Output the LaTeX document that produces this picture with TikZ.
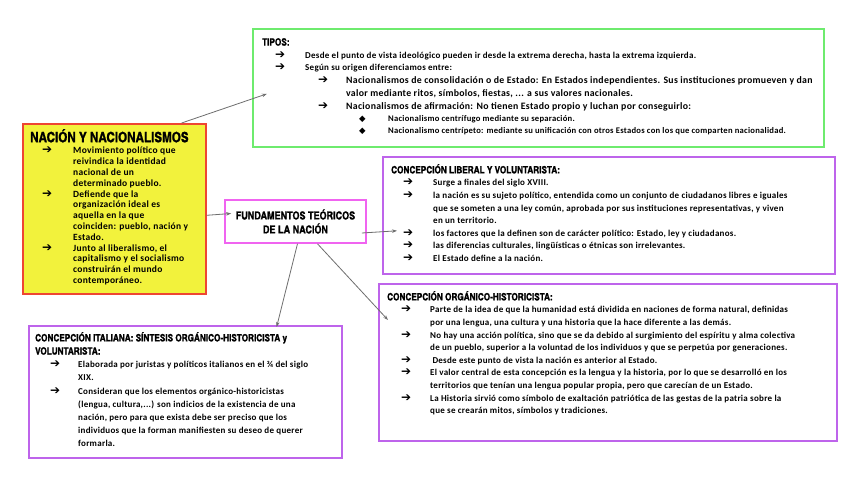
\documentclass[tikz,border=0pt]{standalone}
\usepackage{fontspec}
\setmainfont{Carlito}
\newfontfamily\bodyfont{Carlito}[LetterSpace=3]
\newfontfamily\titlefont{texgyreheroscn-bold.otf}[FakeBold=1.2]
\newfontfamily\symfont{DejaVu Sans}
\usetikzlibrary{arrows.meta, positioning, calc}
\definecolor{tiposgreen}{RGB}{110,235,110}
\definecolor{nacionyellow}{RGB}{242,242,60}
\definecolor{nacionred}{RGB}{238,70,50}
\definecolor{fundpink}{RGB}{240,100,240}
\definecolor{concpurple}{RGB}{190,100,235}
\definecolor{linkgray}{RGB}{110,110,110}

\newcommand{\arw}{{\symfont\fontsize{12}{12}\selectfont ➔}}
\newcommand{\dia}{{\symfont\fontsize{8.5}{8.5}\selectfont ◆}}
% list line: mark at #1, text at #2
\newcommand{\lv}[3]{\makebox[#2pt][l]{\hspace*{#1pt}#3}}
\newcommand{\nx}[1]{\makebox[#1pt]{}}
\newcommand{\ttl}[1]{{\titlefont\fontsize{10}{13}\selectfont #1}}

\begin{document}
\begin{tikzpicture}[
    x=1pt, y=-1pt,
    box/.style={rectangle, draw, line width=1.6pt, inner sep=0pt, anchor=north west},
    tipbox/.style={box, draw=tiposgreen},
    nacbox/.style={box, draw=nacionred, fill=nacionyellow},
    fundbox/.style={box, draw=fundpink, anchor=center, align=center, font=\titlefont\fontsize{11}{14}\selectfont},
    concbox/.style={box, draw=concpurple},
    txt/.style={inner sep=0pt, align=left, font=\bodyfont\bfseries\fontsize{9}{12.6}\selectfont},
    conn/.style={-{Stealth[length=5pt, width=3.5pt]}, draw=linkgray, line width=0.8pt}
]

\path[fill=white, use as bounding box] (0,0) rectangle (848,477);

% Boxes
\node[tipbox, minimum width=571pt, minimum height=118pt] (tipos) at (252,28) {};
\node[nacbox, minimum width=183pt, minimum height=170pt] (nacion) at (22,123) {};
\node[fundbox, minimum width=141pt, minimum height=43pt] (fund) at (295.5,221.5) {FUNDAMENTOS TEÓRICOS\\DE LA NACIÓN};
\node[concbox, minimum width=452pt, minimum height=117pt] (liberal) at (382,156) {};
\node[concbox, minimum width=458pt, minimum height=157pt] (organico) at (378,283) {};
\node[concbox, minimum width=313pt, minimum height=132pt] (italiana) at (28,325) {};

% Tipos
\node[txt, font=\bodyfont\bfseries\fontsize{9}{12.7}\selectfont, below right=10pt and 10pt of tipos.north west] (tiposText) {\ttl{TIPOS:}\\
\lv{13}{43}{\arw}Desde el punto de vista ideológico pueden ir desde la extrema derecha, hasta la extrema izquierda.\\
\lv{13}{43}{\arw}Según su origen diferenciamos entre:\\
{\fontsize{9.8}{12}\selectfont\lv{56}{84}{\arw}Nacionalismos de consolidación o de Estado: En Estados independientes. Sus instituciones promueven y dan}\\
{\fontsize{9.8}{12}\selectfont\nx{84}valor mediante ritos, símbolos, fiestas, ... a sus valores nacionales.}\\
{\fontsize{9.8}{12}\selectfont\lv{56}{84}{\arw}Nacionalismos de afirmación: No tienen Estado propio y luchan por conseguirlo:}\\
{\fontsize{8.6}{10}\selectfont\lv{97}{126}{\dia}Nacionalismo centrífugo mediante su separación.}\\[-1.2pt]
{\fontsize{8.6}{10}\selectfont\lv{97}{126}{\dia}Nacionalismo centrípeto: mediante su unificación con otros Estados con los que comparten nacionalidad.}};

% Nacion y nacionalismos
\node[txt, font=\bodyfont\bfseries\fontsize{9.5}{10.8}\selectfont, below right=6pt and 8pt of nacion.north west] (nacionText) {{\titlefont\fontsize{14.2}{15}\selectfont NACIÓN Y NACIONALISMOS}\\[1pt]
\lv{12}{43}{\arw}Movimiento político que\\
\nx{43}reivindica la identidad\\
\nx{43}nacional de un\\
\nx{43}determinado pueblo.\\
\lv{12}{43}{\arw}Defiende que la\\
\nx{43}organización ideal es\\
\nx{43}aquella en la que\\
\nx{43}coinciden: pueblo, nación y\\
\nx{43}Estado.\\
\lv{12}{43}{\arw}Junto al liberalismo, el\\
\nx{43}capitalismo y el socialismo\\
\nx{43}construirán el mundo\\
\nx{43}contemporáneo.};

% Concepcion liberal
\node[txt, below right=8pt and 9pt of liberal.north west] (liberalText) {\ttl{CONCEPCIÓN LIBERAL Y VOLUNTARISTA:}\\
\lv{12}{42}{\arw}Surge a finales del siglo XVIII.\\
\lv{12}{42}{\arw}la nación es su sujeto político, entendida como un conjunto de ciudadanos libres e iguales\\
\nx{42}que se someten a una ley común, aprobada por sus instituciones representativas, y viven\\
\nx{42}en un territorio.\\
\lv{12}{42}{\arw}los factores que la definen son de carácter político: Estado, ley y ciudadanos.\\
\lv{12}{42}{\arw}las diferencias culturales, lingüísticas o étnicas son irrelevantes.\\
\lv{12}{42}{\arw}El Estado define a la nación.};

% Concepcion organico-historicista
\node[txt, below right=8pt and 9pt of organico.north west] (organicoText) {\ttl{CONCEPCIÓN ORGÁNICO-HISTORICISTA:}\\
\lv{14}{43}{\arw}Parte de la idea de que la humanidad está dividida en naciones de forma natural, definidas\\
\nx{43}por una lengua, una cultura y una historia que la hace diferente a las demás.\\
\lv{14}{43}{\arw}No hay una acción política, sino que se da debido al surgimiento del espíritu y alma colectiva\\
\nx{43}de un pueblo, superior a la voluntad de los individuos y que se perpetúa por generaciones.\\
\lv{14}{43}{\arw}\ Desde este punto de vista la nación es anterior al Estado.\\
\lv{14}{43}{\arw}El valor central de esta concepción es la lengua y la historia, por lo que se desarrolló en los\\
\nx{43}territorios que tenían una lengua popular propia, pero que carecían de un Estado.\\
\lv{14}{43}{\arw}La Historia sirvió como símbolo de exaltación patriótica de las gestas de la patria sobre la\\
\nx{43}que se crearán mitos, símbolos y tradiciones.};

% Concepcion italiana
\node[txt, font=\bodyfont\bfseries\fontsize{9}{13.2}\selectfont, below right=7pt and 7pt of italiana.north west] (italianaText) {\ttl{CONCEPCIÓN ITALIANA: SÍNTESIS ORGÁNICO-HISTORICISTA y}\\
\ttl{VOLUNTARISTA:}\\
\lv{15}{43}{\arw}Elaborada por juristas y políticos italianos en el ¾ del siglo\\
\nx{43}XIX.\\
\lv{15}{43}{\arw}Consideran que los elementos orgánico-historicistas\\
\nx{43}(lengua, cultura,...) son indicios de la existencia de una\\
\nx{43}nación, pero para que exista debe ser preciso que los\\
\nx{43}individuos que la forman manifiesten su deseo de querer\\
\nx{43}formarla.};

% Connectors
\draw[conn] ($(nacion.north east)+(-25,0)$) -- ($(tipos.west)+(15,6)$);
\draw[conn] ($(nacion.east)+(0,6.5)$) -- ($(fund.west)+(7,-8)$);
\draw[conn] ($(fund.east)+(-5,11.5)$) -- ($(liberal.west)+(15,15.5)$);
\draw[conn] ($(fund.south)+(2,0)$) -- ($(italiana.north east)+(-66,2)$);
\draw[conn] ($(fund.south)+(22,0)$) -- ($(organico.north west)+(10,37)$);

\end{tikzpicture}
\end{document}
